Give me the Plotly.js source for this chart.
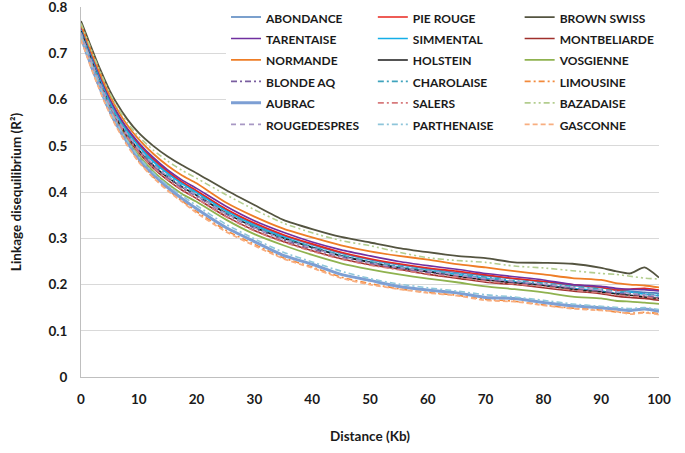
<!DOCTYPE html>
<html><head><meta charset="utf-8">
<script src="https://cdn.plot.ly/plotly-3.0.1.min.js"></script>
<style>body{margin:0;background:#fff}#chart{width:685px;height:453px}</style>
</head><body><div id="chart"></div>
<script>
// Distance (Kb)
const distance = [0,1,2,3,4,5,6,8,10,12.5,15,17.5,20,25,30,35,40,45,50,55,60,65,70,75,80,85,90,92.5,95,97.5,100];

const abondance    = [.752,.719,.687,.655,.625,.598,.574,.534,.502,.469,.442,.420,.401,.363,.331,.306,.286,.268,.254,.243,.234,.226,.219,.212,.206,.198,.193,.189,.186,.183,.181];
const pieRouge     = [.757,.723,.690,.658,.628,.600,.576,.536,.504,.472,.445,.422,.403,.364,.333,.308,.288,.270,.256,.245,.236,.229,.221,.213,.207,.200,.194,.188,.190,.192,.188];
const brownSwiss   = [.770,.738,.706,.675,.646,.619,.596,.558,.528,.500,.477,.458,.441,.405,.372,.340,.320,.303,.291,.279,.270,.262,.257,.248,.247,.245,.236,.229,.224,.237,.215];
const tarentaise   = [.755,.722,.690,.659,.629,.602,.578,.538,.507,.475,.448,.426,.408,.370,.338,.313,.292,.275,.262,.250,.241,.233,.224,.217,.210,.200,.196,.192,.190,.189,.186];
const simmental    = [.750,.716,.683,.651,.621,.594,.570,.531,.499,.466,.440,.418,.399,.360,.328,.303,.281,.263,.249,.238,.230,.222,.214,.206,.199,.192,.186,.181,.184,.179,.176];
const montbeliarde = [.745,.710,.676,.643,.612,.584,.559,.518,.485,.452,.426,.404,.386,.348,.317,.293,.273,.256,.243,.233,.222,.214,.205,.200,.193,.186,.180,.175,.172,.170,.166];
const normande     = [.762,.729,.697,.666,.636,.609,.585,.545,.514,.483,.457,.436,.419,.378,.347,.321,.302,.285,.272,.262,.254,.244,.237,.229,.222,.214,.210,.203,.200,.198,.194];
const holstein     = [.748,.713,.679,.646,.615,.587,.563,.523,.491,.458,.432,.411,.393,.355,.324,.300,.280,.262,.248,.236,.228,.218,.210,.204,.198,.190,.184,.180,.177,.173,.170];
const vosgienne    = [.742,.707,.672,.639,.608,.580,.555,.513,.479,.445,.418,.396,.379,.341,.309,.285,.264,.246,.233,.222,.213,.205,.196,.190,.183,.174,.170,.165,.163,.161,.158];
const blondeAq     = [.742,.708,.675,.643,.613,.586,.562,.522,.490,.457,.431,.409,.391,.353,.322,.297,.277,.260,.246,.235,.226,.219,.211,.205,.200,.192,.186,.182,.180,.176,.172];
const charolaise   = [.746,.712,.679,.647,.617,.590,.566,.527,.495,.462,.436,.414,.396,.357,.326,.301,.282,.264,.250,.240,.231,.223,.216,.208,.203,.196,.190,.186,.183,.180,.177];
const limousine    = [.732,.697,.662,.630,.599,.571,.546,.503,.467,.433,.405,.381,.358,.318,.287,.258,.238,.216,.202,.191,.183,.177,.168,.164,.156,.149,.145,.141,.138,.140,.137];
const aubrac       = [.735,.700,.666,.634,.603,.575,.550,.508,.472,.438,.410,.386,.364,.324,.293,.263,.244,.222,.209,.196,.188,.182,.172,.170,.161,.154,.150,.147,.144,.147,.142];
const salers       = [.740,.706,.673,.641,.611,.583,.559,.519,.486,.453,.427,.405,.386,.347,.316,.292,.272,.255,.242,.232,.223,.216,.207,.201,.196,.188,.182,.178,.175,.173,.169];
const bazadaise    = [.765,.733,.701,.670,.641,.614,.590,.551,.520,.491,.467,.447,.430,.395,.362,.333,.312,.295,.284,.270,.258,.252,.248,.240,.236,.230,.224,.222,.218,.214,.212];
const rougedespres = [.744,.710,.677,.645,.615,.588,.564,.525,.493,.460,.434,.412,.393,.354,.323,.298,.279,.261,.247,.237,.229,.221,.213,.207,.201,.194,.188,.185,.181,.178,.175];
const parthenaise  = [.738,.703,.669,.637,.606,.578,.553,.511,.476,.442,.415,.392,.371,.331,.299,.270,.249,.229,.213,.201,.193,.186,.178,.173,.166,.158,.153,.151,.148,.150,.146];
const gasconne     = [.730,.695,.660,.628,.597,.569,.544,.501,.465,.431,.403,.379,.355,.315,.284,.256,.236,.214,.200,.190,.182,.176,.166,.163,.155,.148,.144,.142,.136,.139,.135];

const seriesNames = ["ABONDANCE","PIE ROUGE","BROWN SWISS","TARENTAISE","SIMMENTAL","MONTBELIARDE","NORMANDE","HOLSTEIN","VOSGIENNE","BLONDE AQ","CHAROLAISE","LIMOUSINE","AUBRAC","SALERS","BAZADAISE","ROUGEDESPRES","PARTHENAISE","GASCONNE"];
const seriesValues = [abondance,pieRouge,brownSwiss,tarentaise,simmental,montbeliarde,normande,holstein,vosgienne,blondeAq,charolaise,limousine,aubrac,salers,bazadaise,rougedespres,parthenaise,gasconne];
const yTicks = [0,0.1,0.2,0.3,0.4,0.5,0.6,0.7,0.8];
const xTicks = [0,10,20,30,40,50,60,70,80,90,100];

const styles = [
  {color:"#4f81bd", width:1.6, dash:"solid"},
  {color:"#e8261e", width:1.6, dash:"solid"},
  {color:"#545440", width:1.8, dash:"solid"},
  {color:"#7030a0", width:1.6, dash:"solid"},
  {color:"#14aee8", width:1.6, dash:"solid"},
  {color:"#a0302c", width:1.6, dash:"solid"},
  {color:"#ee7d26", width:1.8, dash:"solid"},
  {color:"#1a1a1a", width:1.6, dash:"solid"},
  {color:"#8fb24f", width:1.8, dash:"solid"},
  {color:"#7a5ea0", width:1.6, dash:"6px,3px,2px,3px"},
  {color:"#3fa3bd", width:1.6, dash:"6px,3px,2px,3px"},
  {color:"#f28a3c", width:1.6, dash:"6px,3px,2px,3px"},
  {color:"#7d9fd4", width:3.0, dash:"solid"},
  {color:"#d77a7c", width:1.6, dash:"6px,3px,2px,3px"},
  {color:"#b3cd8e", width:1.6, dash:"6px,3px,2px,3px,2px,3px"},
  {color:"#a898c4", width:1.6, dash:"5px,4px"},
  {color:"#8ec5da", width:1.6, dash:"6px,3px,2px,3px"},
  {color:"#f8ae80", width:1.8, dash:"5px,3px"}
];

const traces = seriesNames.map((n,i)=>({
  type:"scatter", mode:"lines", x:distance, y:seriesValues[i],
  name:'<span style="font-size:12px">'+n+'</span>',
  line:{color:styles[i].color, width:styles[i].width, dash:styles[i].dash, shape:"spline", smoothing:0.6},
  hoverinfo:"skip"
}));

const fontFam = "Lato, 'Open Sans', sans-serif";
const layout = {
  width:685, height:453,
  margin:{l:81, r:26, t:7, b:76, autoexpand:false},
  paper_bgcolor:"#fff", plot_bgcolor:"#fff",
  showlegend:true,
  legend:{orientation:"h", x:0.2509, xanchor:"left", y:1.0154, yanchor:"top",
    entrywidth:0.254, entrywidthmode:"fraction", bgcolor:"#fff", borderwidth:0,
    font:{family:fontFam, size:14.2, color:"#1a1a1a", weight:"bold"}, traceorder:"normal"},
  xaxis:{range:[0,100], tickvals:xTicks, ticktext:xTicks.map(String), showgrid:false, zeroline:false,
    showline:true, linecolor:"#bfbfbf", linewidth:1, ticks:"", ticklabelstandoff:10, ticklabeloverflow:"allow",
    tickfont:{family:fontFam, size:13.5, color:"#1a1a1a", weight:"bold"},
    title:{text:"Distance (Kb)", font:{family:fontFam, size:13.5, color:"#1a1a1a", weight:"bold"}, standoff:25}},
  yaxis:{range:[0,0.8005], tickvals:yTicks, ticktext:yTicks.map(String), showgrid:true, gridcolor:"#d9d9d9", gridwidth:1, zeroline:false,
    showline:true, linecolor:"#bfbfbf", linewidth:1, ticks:"", ticklabelstandoff:10, ticklabeloverflow:"allow",
    tickfont:{family:fontFam, size:13.5, color:"#1a1a1a", weight:"bold"},
    title:{text:"Linkage disequilibrium (R²)", font:{family:fontFam, size:13.5, color:"#1a1a1a", weight:"bold"}, standoff:23}}
};
Plotly.newPlot("chart", traces, layout, {staticPlot:true, displayModeBar:false});
</script>
</body></html>
